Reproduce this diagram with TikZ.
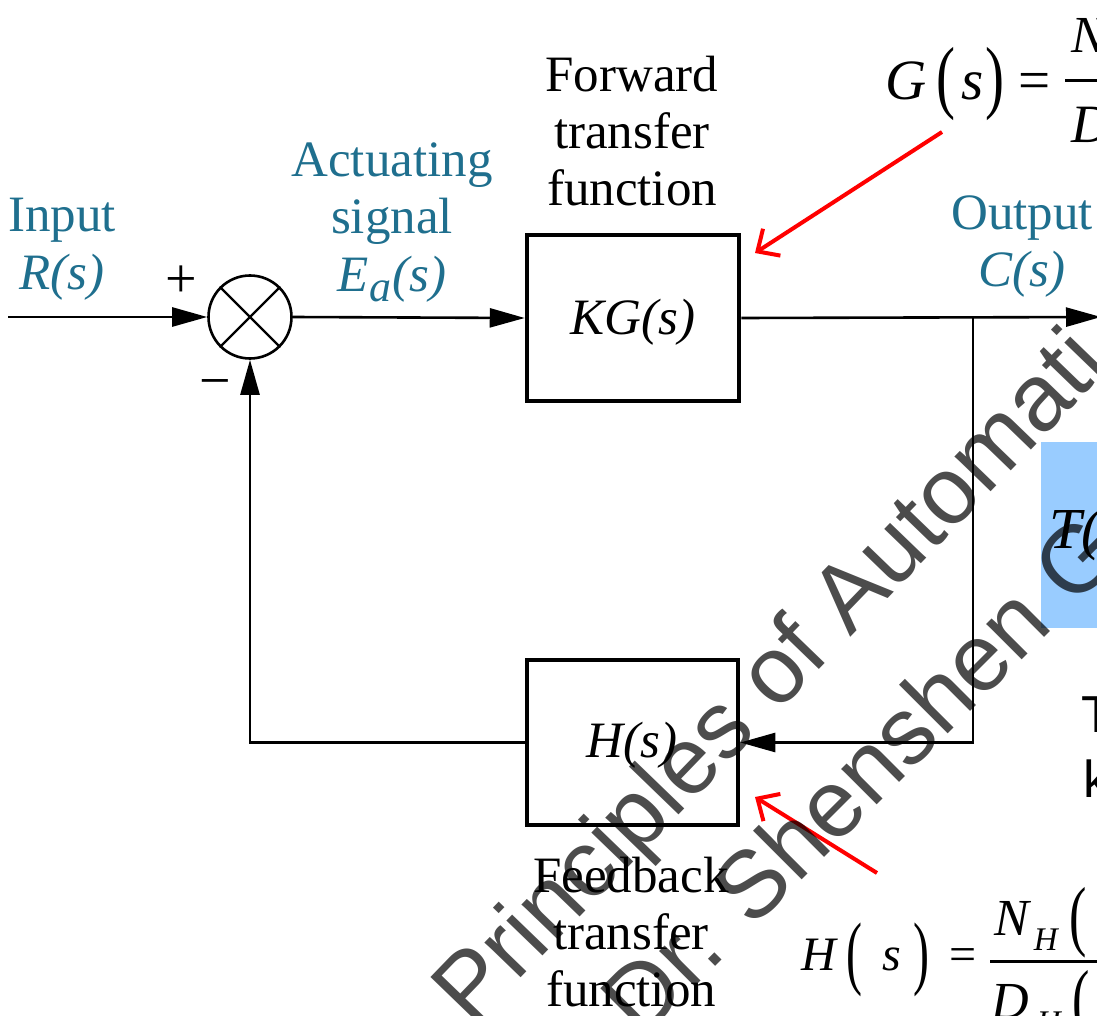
\documentclass[tikz,border=0pt]{standalone}
\usepackage{fontspec}
\setmainfont{Liberation Serif}
\newfontfamily\arialf{Liberation Sans}
\usetikzlibrary{arrows.meta}
\definecolor{tealc}{HTML}{1F6F8E}
\definecolor{lblue}{HTML}{99CCFF}
\begin{document}
\begin{tikzpicture}[x=1pt,y=-1pt,
  wire/.style={line width=2.6pt},
  arr/.style={-{Triangle[length=35pt,width=19pt]}},
  blk/.style={draw,line width=4.5pt,inner sep=0pt},
  lbl/.style={font=\fontsize{51}{57}\selectfont,text=tealc,inner sep=0pt,anchor=base},
  blab/.style={font=\fontsize{51}{57}\selectfont,text=black,inner sep=0pt,anchor=base},
  sgn/.style={font=\fontsize{56}{56}\selectfont,inner sep=0pt,anchor=base},
  redarr/.style={draw=red,line width=4pt,-{Straight Barb[length=17pt,width=32pt,line width=4pt]}},
  eq/.style={inner sep=0pt,anchor=base west},
  wm/.style={font=\arialf\fontsize{95}{95}\selectfont,text=black,text opacity=0.7,inner sep=0pt,anchor=base}]
\useasboundingbox (0,0) rectangle (1097,1016);
\clip (0,0) rectangle (1097,1016);

% blue highlight box (partly visible)
\fill[lblue] (1041,442) rectangle (1110,628);
\node[eq,font=\fontsize{58}{58}\selectfont\itshape] (tf) at (1049,548) {T(};

% blocks
\node[blk,minimum width=212pt,minimum height=166pt] (kg) at (633,318) {};
\node[blk,minimum width=211pt,minimum height=165pt] (h) at (632.5,742.5) {};
\node[font=\fontsize{51}{51}\selectfont\itshape,inner sep=0pt,anchor=base] (kgt) at (633,334) {KG(s)};
\node[font=\fontsize{51}{51}\selectfont\itshape,inner sep=0pt,anchor=base] (ht) at (632,757) {H(s)};

% summing junction
\node[draw,circle,line width=2.6pt,minimum size=83pt,inner sep=0pt] (sum) at (250,317) {};
\draw[line width=2.2pt] (sum.45) -- (sum.225);
\draw[line width=2.2pt] (sum.135) -- (sum.-45);
\node[sgn] (plus) at (181,297) {+};
\node[sgn] (minus) at (215,399) {−};

% connectors
\coordinate (inL) at (8,317);
\coordinate (outR) at (1101,317);
\coordinate (br) at (973,317);
\draw[wire,arr] (inL) -- (sum.west);
\draw[wire,arr] (sum.east) -- (kg.west);
\draw[wire,arr] (kg.east) -- (outR);
\draw[wire,arr] (br) |- (h.east);
\draw[wire,arr] (h.west) -| (sum.south);

% labels
\node[lbl] (in1) at (62,232) {Input};
\node[lbl] (in2) at (62,289) {\itshape R(s)};
\node[lbl] (ac1) at (392,177) {Actuating};
\node[lbl] (ac2) at (392,234) {signal};
\node[lbl] (ac3) at (392,291) {\itshape E\kern1pt\raisebox{-10pt}{\fontsize{44}{44}\selectfont a}\kern1pt(s)};
\node[blab] (fw1) at (632,92) {Forward};
\node[blab] (fw2) at (632,149) {transfer};
\node[blab] (fw3) at (632,206) {function};
\node[lbl] (ou1) at (1022,230) {Output};
\node[lbl] (ou2) at (1022,287) {\itshape C(s)};
\node[blab] (fb1) at (631,892) {Feedback};
\node[blab] (fb2) at (631,949) {transfer};
\node[blab] (fb3) at (631,1006) {function};

% G(s) equation
\node[eq,font=\fontsize{57}{57}\selectfont] (geq) at (885,100)
  {\itshape G\kern10pt\upshape\raisebox{-4pt}{\scalebox{1}[1.42]{(}}\kern6pt\itshape s\kern2pt\upshape\raisebox{-4pt}{\scalebox{1}[1.42]{)}}\kern14pt=};
\coordinate (gb1) at (1065,81);
\coordinate (gb2) at (1110,81);
\draw[line width=3pt] (gb1) -- (gb2);
\node[eq,font=\fontsize{52}{52}\selectfont\itshape] (gn) at (1071,53) {N};
\node[eq,font=\fontsize{54}{54}\selectfont\itshape] (gd) at (1071,143) {D};

% H(s) equation
\node[eq,font=\fontsize{48}{48}\selectfont] (heq) at (801,970)
  {\itshape H\kern11pt\upshape\raisebox{-9pt}{\scalebox{1}[1.7]{(}}\kern20pt\itshape s\kern12pt\upshape\raisebox{-9pt}{\scalebox{1}[1.7]{)}}\kern20pt=};
\coordinate (hb1) at (990,961);
\coordinate (hb2) at (1110,961);
\draw[line width=3pt] (hb1) -- (hb2);
\node[eq,font=\fontsize{52}{52}\selectfont] (hn) at (994,935)
  {\itshape N\kern5pt\raisebox{-15pt}{\fontsize{33}{33}\selectfont H}\kern12pt\upshape\raisebox{-6pt}{\scalebox{1}[1.5]{(}}};
\node[eq,font=\fontsize{52}{52}\selectfont] (hd) at (991,1018)
  {\itshape D\kern8pt\raisebox{-15pt}{\fontsize{33}{33}\selectfont H}\kern12pt\upshape\raisebox{-6pt}{\scalebox{1}[1.5]{(}}};

% partial sans text
\node[eq,font=\arialf\fontsize{52}{52}\selectfont] (st) at (1081,732) {T};
\node[eq,font=\arialf\fontsize{52}{52}\selectfont] (sk) at (1083,797) {k};

% red pointer arrows
\coordinate (r1s) at (942,132);
\coordinate (r1e) at (755,253);
\coordinate (r2s) at (877,873);
\coordinate (r2e) at (755,797);
\draw[redarr] (r1s) -- (r1e);
\draw[redarr] (r2s) -- (r2e);

% watermark
\node[wm,rotate=46] (wm1) at (792,698) {Principles of Automati};
\node[wm,rotate=45] (wm2) at (884,798) {Dr. Shenshen G};
\end{tikzpicture}
\end{document}
